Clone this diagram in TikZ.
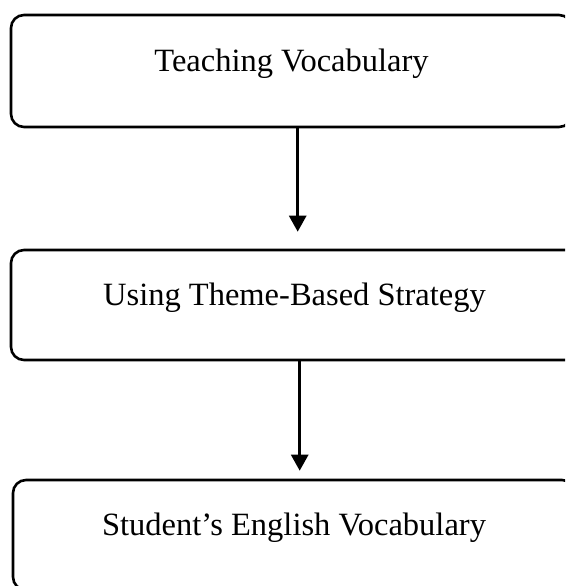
\documentclass[tikz,border=0pt]{standalone}
\usepackage{fontspec}
\setmainfont{Liberation Serif}
\usetikzlibrary{arrows.meta}
\begin{document}
\begin{tikzpicture}[x=1pt,y=-1pt,>={Triangle[length=16pt,width=17pt]}]
        \tikzset{
            stage/.style={draw,line width=2.6pt,rounded corners=13pt,
                font=\fontsize{32.5pt}{39pt}\selectfont,
                text height=16pt,text depth=16pt,inner sep=0pt},
            flow/.style={->,line width=2.8pt}
        }

        \useasboundingbox (0,0) rectangle (565,586);
        \clip (0,0) rectangle (565,586);

        \node[stage,minimum width=561pt,minimum height=112pt] (teach) at (291.5,71) {Teaching Vocabulary};
        \node[stage,minimum width=567pt,minimum height=110pt] (strategy) at (294.5,305) {Using Theme-Based Strategy};
        \node[stage,minimum width=562pt,minimum height=110pt] (vocab) at (294,535) {Student’s English Vocabulary};

        \draw[flow,shorten >=17pt] ([xshift=6.2pt]teach.south) -- ([xshift=6.2pt]teach.south |- strategy.north);
        \draw[flow,shorten >=8pt] ([xshift=5.2pt]strategy.south) -- ([xshift=5.2pt]strategy.south |- vocab.north);
    \end{tikzpicture}
\end{document}
